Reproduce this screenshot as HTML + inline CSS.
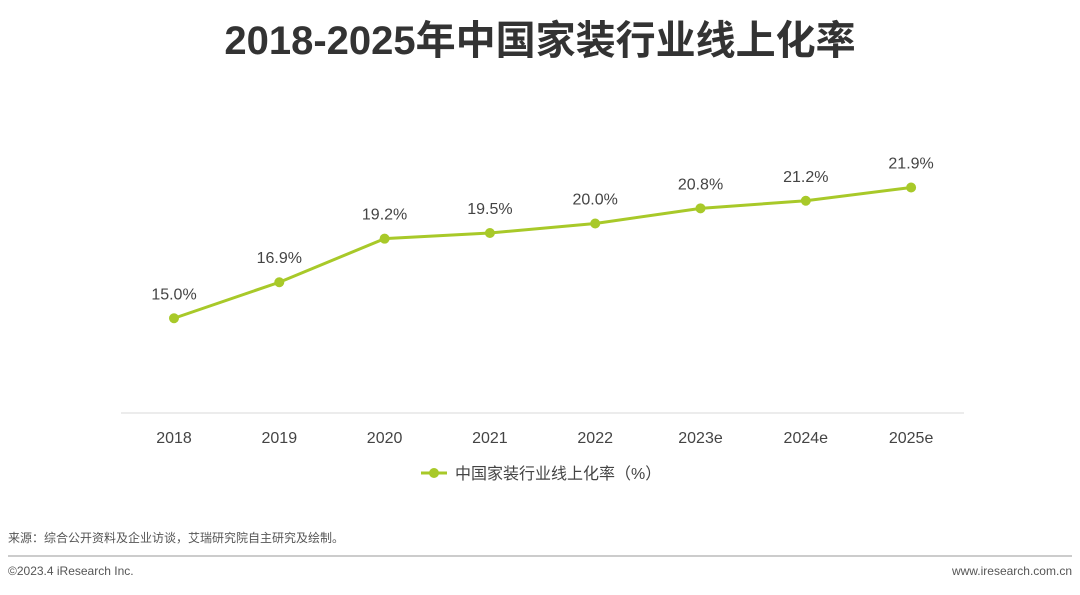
<!DOCTYPE html>
<html><head><meta charset="utf-8"><style>
body{margin:0;width:1080px;height:590px;background:#fff;overflow:hidden;font-family:"Liberation Sans","Noto Sans CJK SC",sans-serif;}
svg text{font-family:"Liberation Sans","Noto Sans CJK SC",sans-serif;}
</style></head><body>
<svg width="1080" height="590">
<text x="540" y="54" text-anchor="middle" font-size="40" font-weight="bold" fill="#333">2018-2025年中国家装行业线上化率</text>
<line x1="121" y1="413" x2="964" y2="413" stroke="#d9d9d9" stroke-width="1"/>
<g id="xl"></g><g id="series"></g>
<g>
<line x1="421" y1="473" x2="447" y2="473" stroke="#a8c929" stroke-width="3"/>
<circle cx="434" cy="473" r="5" fill="#a8c929"/>
<text x="455" y="479" font-size="16" fill="#444">中国家装行业线上化率（%）</text>
</g>
<text x="8" y="542" font-size="12" fill="#555">来源：综合公开资料及企业访谈，艾瑞研究院自主研究及绘制。</text>
<line x1="8" y1="556" x2="1072" y2="556" stroke="#999" stroke-width="1"/>
<text x="8" y="575" font-size="12" fill="#555">©2023.4 iResearch Inc.</text>
<text x="1072" y="575" text-anchor="end" font-size="12" fill="#555">www.iresearch.com.cn</text>
</svg>
<script>
const categories=["2018","2019","2020","2021","2022","2023e","2024e","2025e"];
const values=[15.0,16.9,19.2,19.5,20.0,20.8,21.2,21.9];
const NS="http://www.w3.org/2000/svg";
function xs(i){return 174+i*105.3;}
function ys(v){return 413-(v-10)*18.95;}
const xl=document.getElementById('xl'),sg=document.getElementById('series');
categories.forEach((c,i)=>{const t=document.createElementNS(NS,'text');


t.setAttribute('x',xs(i));t.setAttribute('y',443);t.setAttribute('text-anchor','middle');t.setAttribute('font-size','16');t.setAttribute('fill','#444');t.textContent=c;xl.appendChild(t);});
const p=document.createElementNS(NS,'polyline');


p.setAttribute('points',values.map((v,i)=>xs(i)+','+ys(v)).join(' '));
p.setAttribute('fill','none');p.setAttribute('stroke','#a8c929');p.setAttribute('stroke-width','3');sg.appendChild(p);
values.forEach((v,i)=>{const c=document.createElementNS(NS,'circle');


c.setAttribute('cx',xs(i));c.setAttribute('cy',ys(v));c.setAttribute('r','5');c.setAttribute('fill','#a8c929');sg.appendChild(c);
const t=document.createElementNS(NS,'text');


t.setAttribute('x',xs(i));t.setAttribute('y',ys(v)-19);t.setAttribute('text-anchor','middle');t.setAttribute('font-size','16');t.setAttribute('fill','#444');t.textContent=v.toFixed(1)+'%';sg.appendChild(t);});
</script>
</body></html>
